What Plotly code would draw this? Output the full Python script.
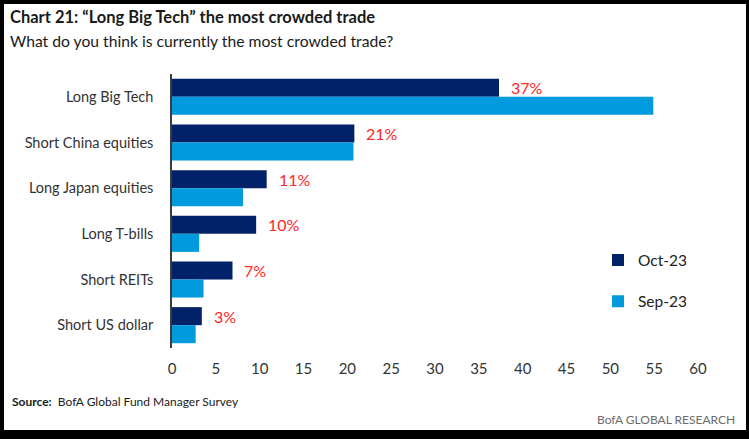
import plotly.graph_objects as go

categories = ["Long Big Tech", "Short China equities", "Long Japan equities",
              "Long T-bills", "Short REITs", "Short US dollar"]
oct_values = [37.3, 20.8, 10.8, 9.6, 6.9, 3.4]
sep_values = [54.9, 20.7, 8.1, 3.1, 3.6, 2.7]
oct_labels = ["37%", "21%", "11%", "10%", "7%", "3%"]
x_ticks = [0, 5, 10, 15, 20, 25, 30, 35, 40, 45, 50, 55, 60]

NAVY = "#012169"
LIGHT = "#009ADE"
FONT = "Lato"

fig = go.Figure()
fig.add_trace(go.Bar(y=categories, x=oct_values, orientation="h", name="Oct-23",
                     marker=dict(color=NAVY, line=dict(width=0)),
                     legendgroup="a"))
fig.add_trace(go.Bar(y=categories, x=sep_values, orientation="h", name="Sep-23",
                     marker=dict(color=LIGHT, line=dict(width=0)),
                     legendgroup="b"))

# geometry helpers (pixels -> paper)
L, R, T, B = 172, 51, 74, 91
W, H = 749, 439
pw, ph = W - L - R, H - T - B
def px(x):
    return (x - L) / pw
def py(y):
    return 1 - (y - T) / ph

annotations = []
for cat, v, lab in zip(categories, oct_values, oct_labels):
    annotations.append(dict(x=v, y=cat, text=lab, showarrow=False,
                            xanchor="left", yanchor="middle", xshift=10, yshift=9,
                            font=dict(family=FONT, size=16, color="#FF2626")))

annotations += [
    dict(x=px(8), y=py(17), xref="paper", yref="paper", xanchor="left", yanchor="middle",
         text="<b>Chart 21: “Long Big Tech” the most crowded trade</b>", showarrow=False,
         font=dict(family=FONT, size=16.5, color="#1a1a1a")),
    dict(x=px(8), y=py(41), xref="paper", yref="paper", xanchor="left", yanchor="middle",
         text="What do you think is currently the most crowded trade?", showarrow=False,
         font=dict(family=FONT, size=15.7, color="#1a1a1a")),
    dict(x=px(10), y=py(401), xref="paper", yref="paper", xanchor="left", yanchor="middle",
         text="<b>Source:</b>  BofA Global Fund Manager Survey", showarrow=False,
         font=dict(family=FONT, size=12, color="#1a1a1a")),
    dict(x=px(737), y=py(419), xref="paper", yref="paper", xanchor="right", yanchor="middle",
         text="BofA GLOBAL RESEARCH", showarrow=False,
         font=dict(family=FONT, size=12, color="#6b6b6b")),
]

shapes = [
    dict(type="rect", xref="paper", yref="paper", x0=px(4), x1=px(746), y0=py(4), y1=py(430),
         fillcolor="white", line=dict(width=0), layer="below"),
]

fig.update_layout(
    width=W, height=H,
    margin=dict(l=L, r=R, t=T, b=B),
    paper_bgcolor="black",
    plot_bgcolor="white",
    barmode="group",
    bargap=0.21,
    bargroupgap=0,
    font=dict(family=FONT, color="#333333"),
    showlegend=True,
    legend=dict(x=px(598), y=py(281), xanchor="left", yanchor="middle",
                traceorder="grouped", tracegroupgap=18,
                bgcolor="rgba(0,0,0,0)", font=dict(family=FONT, size=15.5, color="#222222"),
                itemwidth=30),
    xaxis=dict(range=[0, 60], tickvals=x_ticks, showgrid=False, zeroline=False,
               showline=False, ticks="", ticklabelstandoff=10,
               tickfont=dict(family=FONT, size=15, color="#333333"), fixedrange=True),
    yaxis=dict(autorange="reversed", showgrid=False, zeroline=False,
               showline=True, linecolor="#3a3a3a", linewidth=1.5, ticks="",
               ticklabelstandoff=14,
               tickfont=dict(family=FONT, size=14.5, color="#333333"), fixedrange=True),
    annotations=annotations,
    shapes=shapes,
)

fig.write_html("out.html", config={"displayModeBar": False},
               post_script="document.body.style.margin='0';document.body.style.overflow='hidden';")
